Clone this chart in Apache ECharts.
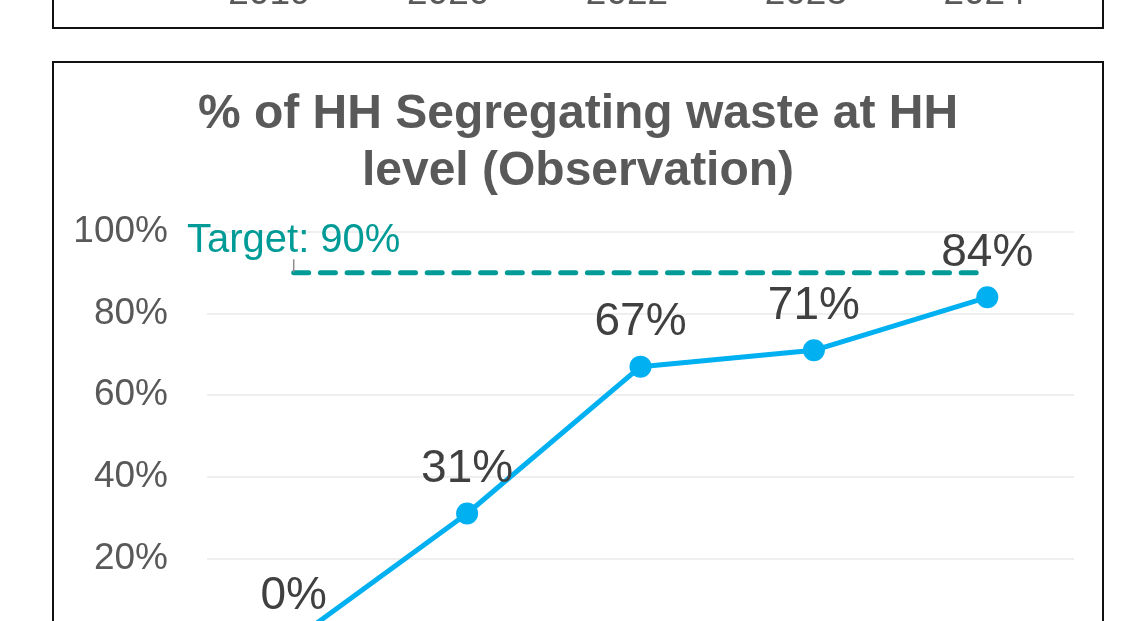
<!DOCTYPE html>
<html>
<head>
<meta charset="utf-8">
<script src="https://cdn.jsdelivr.net/npm/echarts@6/dist/echarts.min.js"></script>
<style>
    html, body {
        margin: 0;
        padding: 0;
        background: #fff;
        overflow: hidden;
        width: 1127px;
        height: 621px;
    }
    .box {
        position: absolute;
        box-sizing: border-box;
        border: 2px solid #111;
        background: #fff;
    }
    #prev {
        left: 52px;
        top: -200px;
        width: 1052px;
        height: 229px;
    }
    #main {
        left: 52px;
        top: 61px;
        width: 1052px;
        height: 700px;
    }
</style>
</head>
<body>
<div id="prev" class="box"></div>
<div id="main" class="box"></div>
<script>
var years = ['2019', '2020', '2022', '2023', '2024'];
var segregating = [0, 31, 67, 71, 84];
var target = [90, 90, 90, 90, 90];
var targetLabel = 'Target: 90%';
var yTicks = [0, 20, 40, 60, 80, 100];

var FONT = "'Liberation Sans', Arial, sans-serif";

// only the bottom strip of the chart above is on screen
function getPrevOption() {
    return {
        animation: false,
        grid: { left: 126, right: 28, top: 10, bottom: 60 },
        xAxis: {
            type: 'category',
            data: years,
            axisLine: { show: false },
            axisTick: { show: false },
            axisLabel: { fontSize: 37, color: '#595959', fontFamily: FONT, margin: 8 }
        },
        yAxis: { type: 'value', show: false },
        series: []
    };
}

function getOption() {
    // first point carries the label; its symbol is the small grey leader tick
    var targetData = target.map(function (v, i) {
        if (i !== 0) return v;
        return {
            value: v,
            symbol: 'rect',
            symbolSize: [1.5, 13],
            symbolOffset: [0, -7],
            itemStyle: { color: '#8c8c8c' },
            label: {
                show: true,
                position: 'top',
                distance: -2,
                formatter: targetLabel,
                fontSize: 40,
                color: '#009b96',
                fontFamily: FONT
            }
        };
    });

    return {
        animation: false,
        title: {
            text: '% of HH Segregating waste at HH\nlevel (Observation)',
            left: 'center',
            top: 18,
            textStyle: {
                fontSize: 48,
                fontWeight: 'bold',
                color: '#595959',
                lineHeight: 57,
                fontFamily: FONT
            }
        },
        grid: { left: 153, right: 28, top: 169, height: 408 },
        xAxis: {
            type: 'category',
            data: years,
            axisLine: { lineStyle: { color: '#d9d9d9' } },
            axisTick: { show: false },
            axisLabel: { fontSize: 37, color: '#595959', fontFamily: FONT }
        },
        yAxis: {
            type: 'value',
            min: yTicks[0],
            max: yTicks[yTicks.length - 1],
            interval: yTicks[1] - yTicks[0],
            axisLine: { show: false },
            axisTick: { show: false },
            axisLabel: {
                formatter: '{value}%',
                fontSize: 37,
                color: '#595959',
                margin: 39,
                fontFamily: FONT
            },
            splitLine: { lineStyle: { color: '#efefef', width: 2 } }
        },
        series: [
            {
                name: 'Target',
                type: 'line',
                symbol: 'none',
                data: targetData,
                lineStyle: {
                    color: '#009b96',
                    width: 5,
                    type: [15, 11.7],
                    cap: 'round'
                },
                z: 3
            },
            {
                name: '% of HH Segregating',
                type: 'line',
                symbol: 'circle',
                symbolSize: 22,
                data: segregating,
                itemStyle: { color: '#00b0f0' },
                lineStyle: { color: '#00b0f0', width: 5 },
                label: {
                    show: true,
                    position: 'top',
                    distance: 10,
                    formatter: '{c}%',
                    fontSize: 46,
                    color: '#404040',
                    fontFamily: FONT
                },
                z: 2
            }
        ]
    };
}

var prevChart = echarts.init(document.getElementById('prev'));
prevChart.setOption(getPrevOption());

var myChart = echarts.init(document.getElementById('main'));
myChart.setOption(getOption());
</script>
</body>
</html>
